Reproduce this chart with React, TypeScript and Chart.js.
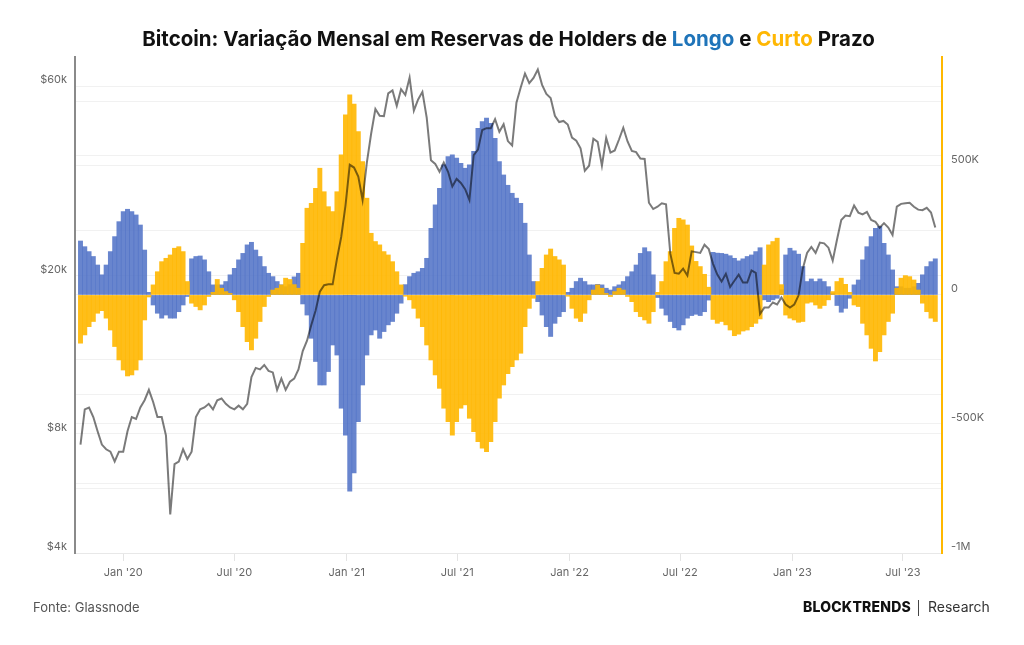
import React, { useEffect, useRef } from "react";
import { Chart, registerables } from "chart.js";

Chart.register(...registerables);

// Weekly samples; day numbers are counted from 2020-01-01 (first sample: 2019-10-23)
const FIRST_DAY = -70;
const STEP_DAYS = 7;

// Monthly change in long-term holder supply (thousand BTC)
const lthChange = [
  209, 187, 168, 149, 116, 78, 116, 168, 226, 284,
  323, 332, 323, 310, 271, 174, 10, -39, -71, -90,
  -78, -90, -90, -65, -39, -6, 140, 149, 151, 136,
  90, 39, 39, 39, 52, 78, 103, 136, 161, 194,
  204, 174, 149, 110, 84, 71, 52, 39, 32, 40,
  70, 84, -35, -78, -168, -258, -349, -349, -297, -194,
  -233, -439, -543, -760, -690, -491, -349, -233, -155, -136,
  -168, -142, -116, -103, -71, -32, 40, 71, 84, 90,
  103, 142, 258, 349, 413, 504, 536, 543, 530, 510,
  491, 504, 556, 646, 672, 685, 665, 607, 517, 465,
  425, 394, 375, 355, 278, 155, 52, -26, -78, -123,
  -161, -110, -84, -65, 10, 26, 52, 65, 52, 39,
  39, 41, 39, 26, 19, 32, 39, 52, 71, 90,
  116, 161, 183, 168, 78, -10, -52, -78, -103, -127,
  -136, -116, -90, -80, -75, -80, -65, -20, 165, 162,
  161, 158, 152, 142, 132, 140, 149, 155, 168, 183,
  -19, -26, -19, -13, 20, 155, 181, 171, 158, 110,
  52, 62, 52, 62, 52, 32, 6, -41, -67, -52,
  -13, 39, 58, 136, 187, 226, 258, 265, 200, 155,
  97, 32, 32, 26, 26, 32, 45, 78, 110, 129,
  140,
];

// Monthly change in short-term holder supply (thousand BTC)
const sthChange = [
  -187, -155, -123, -103, -71, -61, -90, -136, -200, -252,
  -291, -314, -310, -291, -252, -97, -8, 39, 90, 129,
  142, 155, 181, 187, 168, 52, -32, -45, -58, -39,
  -6, 10, 60, 26, 13, 6, -19, -65, -123, -181,
  -213, -168, -103, -45, -6, 19, 26, 39, 65, 60,
  40, 26, 200, 336, 355, 413, 491, 400, 342, 323,
  400, 543, 698, 775, 740, 633, 517, 375, 239, 207,
  194, 168, 155, 129, 90, 39, -5, -19, -52, -90,
  -123, -194, -252, -310, -362, -439, -491, -543, -491, -439,
  -426, -478, -530, -569, -594, -607, -569, -491, -400, -349,
  -305, -278, -252, -226, -123, -52, -13, 52, 103, 155,
  178, 149, 136, 116, -5, -52, -90, -103, -71, -19,
  19, 39, 26, 6, -6, 13, 26, 19, -6, -26,
  -65, -84, -97, -110, -65, 10, 52, 129, 168, 258,
  297, 291, 271, 190, 130, 110, 80, 30, -95, -110,
  -103, -116, -136, -158, -152, -140, -136, -123, -110, -93,
  116, 194, 207, 220, 40, -78, -90, -97, -106, -103,
  -32, -28, -39, -52, -41, -19, 13, 52, 65, 41,
  10, -39, -45, -110, -155, -207, -256, -220, -155, -103,
  -71, 26, 65, 75, 71, 58, 19, -32, -65, -90,
  -103,
];

// BTC price (thousand USD)
const btcPrice = [
  7.5, 9.2, 9.3, 8.8, 8.1, 7.5, 7.3, 7.2, 6.8, 7.2,
  7.2, 8.1, 8.8, 8.7, 9.3, 9.7, 10.3, 9.6, 8.8, 8.8,
  7.9, 5.0, 6.7, 6.8, 7.3, 6.9, 7.2, 8.8, 9.2, 9.3,
  9.5, 9.2, 9.7, 9.8, 9.5, 9.3, 9.2, 9.4, 9.2, 9.5,
  11.1, 11.7, 11.6, 11.9, 11.5, 11.4, 10.3, 11.0, 10.3, 10.8,
  11.0, 11.6, 12.9, 13.7, 15.0, 16.3, 18.2, 18.9, 19.0, 19.0,
  22.0, 25.0, 30.0, 38.0, 37.4, 35.5, 31.0, 38.5, 45.5, 52.5,
  50.5, 50.4, 57.5, 58.5, 53.5, 58.9, 57.0, 63.0, 52.0, 55.5,
  58.0, 50.0, 39.0, 38.2, 36.5, 38.5, 36.5, 33.5, 35.0, 34.2,
  33.0, 31.0, 40.2, 41.5, 46.5, 47.0, 47.0, 49.5, 46.0, 48.1,
  43.6, 42.5, 54.5, 59.5, 64.5, 61.0, 62.9, 66.0, 60.4, 57.3,
  56.0, 50.5, 48.7, 49.0, 48.0, 44.5, 43.7, 41.8, 36.7, 37.8,
  44.2, 43.4, 37.8, 44.4, 40.8, 41.3, 44.0, 47.1, 43.5, 41.2,
  40.9, 39.4, 39.3, 30.5, 29.4, 29.8, 30.4, 30.2, 22.7, 20.3,
  20.2, 20.8, 20.0, 23.0, 22.9, 22.8, 23.9, 23.3, 21.4, 20.1,
  19.3, 20.2, 18.7, 19.4, 20.1, 19.2, 19.2, 20.6, 20.3, 16.0,
  16.6, 16.6, 17.1, 16.9, 17.6, 16.9, 16.6, 16.9, 17.8, 20.8,
  22.8, 23.6, 22.8, 24.2, 24.1, 23.5, 21.8, 24.6, 27.6, 28.3,
  28.2, 30.0, 28.8, 28.5, 28.9, 27.6, 27.3, 26.4, 27.1, 26.4,
  25.3, 29.8, 30.3, 30.4, 30.5, 29.8, 29.3, 29.2, 29.6, 28.8,
  26.4,
];

// Axis ticks
const dateTickDays = [0, 182, 366, 547, 731, 912, 1096, 1277];
const dateTickLabels = ["Jan '20", "Jul '20", "Jan '21", "Jul '21", "Jan '22", "Jul '22", "Jan '23", "Jul '23"];
const priceTicks = [4000, 6000, 8000, 10000, 20000, 40000, 60000];
const priceTickLabels = ["$4k", "", "$8k", "", "$20k", "", "$60k"];
const flowTicks = [-1000000, -750000, -500000, -250000, 0, 250000, 500000, 750000];
const flowTickLabels = ["-1M", "", "-500K", "", "0", "", "500K", ""];

const FONT = "Inter, 'Noto Sans', sans-serif";

export default function App() {
  const canvasRef = useRef<HTMLCanvasElement | null>(null);

  useEffect(() => {
    const canvas = canvasRef.current;
    if (!canvas) return;
    const days = btcPrice.map((_, i) => FIRST_DAY + i * STEP_DAYS);
    const tickFont = { family: FONT, size: 11 };

    const chart = new Chart(canvas, {
      type: "bar",
      data: {
        datasets: [
          {
            type: "line",
            label: "Preço BTC",
            data: days.map((d, i) => ({ x: d, y: btcPrice[i] * 1000 })),
            yAxisID: "price",
            borderColor: "rgba(0,0,0,0.52)",
            borderWidth: 2,
            pointRadius: 0,
            tension: 0,
            order: 0,
          } as any,
          {
            type: "bar",
            label: "Longo Prazo",
            data: days.map((d, i) => ({ x: d, y: lthChange[i] * 1000 })),
            yAxisID: "flow",
            backgroundColor: "rgba(78,112,198,0.85)",
            borderWidth: 0,
            grouped: false,
            barPercentage: 1,
            categoryPercentage: 1,
            order: 2,
          },
          {
            type: "bar",
            label: "Curto Prazo",
            data: days.map((d, i) => ({ x: d, y: sthChange[i] * 1000 })),
            yAxisID: "flow",
            backgroundColor: "rgba(255,183,0,0.9)",
            borderWidth: 0,
            grouped: false,
            barPercentage: 1,
            categoryPercentage: 1,
            order: 1,
          },
        ],
      },
      options: {
        responsive: false,
        animation: false,
        devicePixelRatio: 1,
        layout: { padding: { top: 57, bottom: 52, left: 0, right: 0 } },
        plugins: { legend: { display: false }, tooltip: { enabled: false } },
        scales: {
          x: {
            type: "linear",
            min: -79,
            max: 1341,
            offset: false,
            afterBuildTicks: (s: any) => {
              s.ticks = dateTickDays.map((v) => ({ value: v }));
            },
            afterFit: (s: any) => {
              s.height = 40;
            },
            ticks: {
              autoSkip: false,
              maxRotation: 0,
              padding: 5,
              color: "#666",
              font: tickFont,
              callback: (_v: any, i: number) => dateTickLabels[i],
            },
            grid: { drawOnChartArea: false, drawTicks: true, tickLength: 8, color: "#e4e4e4", offset: false },
            border: { color: "#e8e8e8", width: 1 },
          },
          price: {
            type: "logarithmic",
            position: "left",
            min: 4000,
            max: 71000,
            afterBuildTicks: (s: any) => {
              s.ticks = priceTicks.map((v) => ({ value: v }));
            },
            afterFit: (s: any) => {
              s.width = 75;
            },
            ticks: {
              padding: 8,
              labelOffset: -6,
              color: "#666",
              font: tickFont,
              callback: (_v: any, i: number) => priceTickLabels[i],
            },
            grid: { drawTicks: false, color: "#f1f1f1" },
            border: { color: "#8a8a8a", width: 2 },
          },
          flow: {
            type: "linear",
            position: "right",
            min: -1000000,
            max: 922000,
            afterBuildTicks: (s: any) => {
              s.ticks = flowTicks.map((v) => ({ value: v }));
            },
            afterFit: (s: any) => {
              s.width = 82;
            },
            ticks: {
              padding: 9,
              labelOffset: -6,
              color: "#666",
              font: tickFont,
              callback: (_v: any, i: number) => flowTickLabels[i],
            },
            grid: { drawTicks: false, color: "#f1f1f1" },
            border: { color: "#ffb800", width: 2 },
          },
        },
      } as any,
    });
    return () => chart.destroy();
  }, []);

  return (
    <div
      style={{
        position: "absolute",
        left: 0,
        top: 0,
        width: 1024,
        height: 645,
        background: "#fff",
        fontFamily: FONT,
        overflow: "hidden",
      }}
    >
      <canvas ref={canvasRef} width={1024} height={645} style={{ position: "absolute", left: 0, top: 0 }} />
      <div
        style={{
          position: "absolute",
          left: 0,
          top: 27,
          width: 1017,
          textAlign: "center",
          fontSize: 20.5,
          fontWeight: 700,
          lineHeight: "24px",
          color: "#111",
          whiteSpace: "nowrap",
        }}
      >
        Bitcoin: Variação Mensal em Reservas de Holders de{" "}
        <span style={{ color: "#1f74b9" }}>Longo</span> e{" "}
        <span style={{ color: "#ffb703" }}>Curto</span> Prazo
      </div>
      <div style={{ position: "absolute", left: 33, top: 599, fontSize: 13, lineHeight: "16px", color: "#555" }}>
        Fonte: Glassnode
      </div>
      <div
        style={{
          position: "absolute",
          left: 803,
          top: 599,
          fontSize: 14,
          lineHeight: "16px",
          fontWeight: 800,
          letterSpacing: 0.2,
          color: "#111",
        }}
      >
        BLOCKTRENDS
      </div>
      <div style={{ position: "absolute", left: 918, top: 600, width: 1, height: 16, background: "#444" }} />
      <div style={{ position: "absolute", left: 928, top: 599, fontSize: 14, lineHeight: "16px", color: "#333" }}>
        Research
      </div>
    </div>
  );
}
